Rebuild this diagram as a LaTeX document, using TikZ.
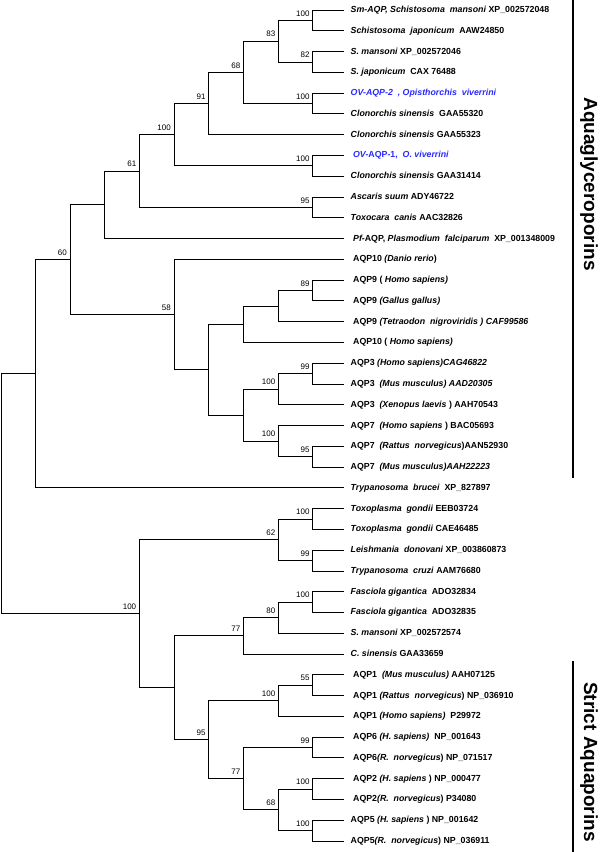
\documentclass[tikz,border=0pt]{standalone}
\usepackage{fontspec}
\setmainfont{Liberation Sans}
\definecolor{ovblue}{RGB}{40,40,255}
\tikzset{
  br/.style={line width=0.85pt, black},
  bs/.style={font=\fontsize{8}{9}\selectfont, anchor=south east, inner sep=0pt, xshift=-3pt, yshift=4pt},
  leaf/.style={font=\fontsize{8.8}{10}\selectfont\bfseries, anchor=west, inner sep=0pt, xshift=6.5pt, text height=6pt, text depth=1pt},
  ov/.style={leaf, text=ovblue},
  grp/.style={font=\fontsize{19}{22}\selectfont\bfseries, rotate=-90, inner sep=0pt},
  grpbar/.style={line width=1.3pt, black},
}
\begin{document}
\begin{tikzpicture}[x=1pt,y=-1pt]
\useasboundingbox (0,0) rectangle (600,852);
% leaves
\foreach \i in {1,...,41} \coordinate (l\i) at (344,{10+20.775*(\i-1)});
% internal nodes
\coordinate (root) at (1,493.75);
\coordinate (U) at (35.3,373.72);
\coordinate (A) at (70,259.62);
\coordinate (B) at (104.8,204.77);
\coordinate (C) at (139.4,171.01);
\coordinate (n100a) at (174,134.65);
\coordinate (n91) at (208.7,103.49);
\coordinate (n68) at (243.5,72.33);
\coordinate (n83) at (278.5,41.16);
\coordinate (n100b) at (312.7,20.39);
\coordinate (n82) at (312.7,61.94);
\coordinate (n100c) at (312.7,103.49);
\coordinate (n100d) at (312.7,165.81);
\coordinate (n95a) at (312.7,207.36);
\coordinate (n58) at (174,314.48);
\coordinate (D) at (208.7,369.67);
\coordinate (E) at (243.5,324.22);
\coordinate (F) at (278.5,306.04);
\coordinate (n89) at (312.7,290.46);
\coordinate (G) at (243.5,415.11);
\coordinate (n100e) at (278.5,389.14);
\coordinate (n99) at (312.7,373.56);
\coordinate (n100f) at (278.5,441.08);
\coordinate (n95b) at (312.7,456.66);
\coordinate (L) at (139.4,613.77);
\coordinate (n62) at (278.5,539.76);
\coordinate (n100g) at (312.7,518.99);
\coordinate (n99b) at (312.7,560.54);
\coordinate (H) at (174,687.78);
\coordinate (n77a) at (243.5,635.85);
\coordinate (n80) at (278.5,617.67);
\coordinate (n100h) at (312.7,602.09);
\coordinate (n95c) at (208.7,739.72);
\coordinate (n100i) at (278.5,700.77);
\coordinate (n55) at (312.7,685.19);
\coordinate (n77b) at (243.5,778.68);
\coordinate (n99c) at (312.7,747.51);
\coordinate (n68b) at (278.5,809.84);
\coordinate (n100j) at (312.7,789.06);
\coordinate (n100k) at (312.7,830.61);
% branches
\foreach \p/\c in {root/U, root/L, U/A, U/l24, A/B, A/n58, B/C, B/l12, C/n100a, C/n95a,
  n100a/n91, n100a/n100d, n91/n68, n91/l7, n68/n83, n68/n100c, n83/n100b, n83/n82,
  n100b/l1, n100b/l2, n82/l3, n82/l4, n100c/l5, n100c/l6, n100d/l8, n100d/l9, n95a/l10, n95a/l11,
  n58/l13, n58/D, D/E, D/G, E/F, E/l17, F/n89, F/l16, n89/l14, n89/l15,
  G/n100e, G/n100f, n100e/n99, n100e/l20, n99/l18, n99/l19, n100f/l21, n100f/n95b, n95b/l22, n95b/l23,
  L/n62, L/H, n62/n100g, n62/n99b, n100g/l25, n100g/l26, n99b/l27, n99b/l28,
  H/n77a, H/n95c, n77a/n80, n77a/l32, n80/n100h, n80/l31, n100h/l29, n100h/l30,
  n95c/n100i, n95c/n77b, n100i/n55, n100i/l35, n55/l33, n55/l34,
  n77b/n99c, n77b/n68b, n99c/l36, n99c/l37, n68b/n100j, n68b/n100k,
  n100j/l38, n100j/l39, n100k/l40, n100k/l41}
  \draw[br] (\p) |- (\c);
% bootstrap values
\foreach \n/\v [count=\k] in {A/60, C/61, n100a/100, n91/91, n68/68, n83/83, n100b/100, n82/82,
  n100c/100, n100d/100, n95a/95, n58/58, n89/89, n99/99, n100e/100, n100f/100, n95b/95,
  L/100, n62/62, n100g/100, n99b/99, n80/80, n100h/100, n77a/77, n55/55, n100i/100,
  n95c/95, n99c/99, n77b/77, n68b/68, n100j/100, n100k/100}
  \node[bs] (bs\k) at (\n) {\v};
% leaf labels
\node[leaf] (t1) at (l1) {\textit{Sm-AQP, Schistosoma\ \ mansoni} XP\_002572048};
\node[leaf] (t2) at (l2) {\textit{Schistosoma\ \ japonicum}\ \ AAW24850};
\node[leaf] (t3) at (l3) {\textit{S. mansoni} XP\_002572046};
\node[leaf] (t4) at (l4) {\textit{S. japonicum}\ \ CAX 76488};
\node[ov] (t5) at (l5) {\textit{OV-AQP-2\ \ , Opisthorchis\ \ viverrini}};
\node[leaf] (t6) at (l6) {\textit{Clonorchis sinensis}\ \ GAA55320};
\node[leaf] (t7) at (l7) {\textit{Clonorchis sinensis} GAA55323};
\node[ov] (t8) at (l8) {\ \textit{OV-}AQP-1,\ \ \textit{O. viverrini}};
\node[leaf] (t9) at (l9) {\textit{Clonorchis sinensis} GAA31414};
\node[leaf] (t10) at (l10) {\textit{Ascaris suum} ADY46722};
\node[leaf] (t11) at (l11) {\textit{Toxocara\ \ canis} AAC32826};
\node[leaf] (t12) at (l12) {\ \textit{Pf-}AQP, \textit{Plasmodium\ \ falciparum}\ \ XP\_001348009};
\node[leaf] (t13) at (l13) {\ AQP10 \textit{(Danio rerio})};
\node[leaf] (t14) at (l14) {\ AQP9 ( \textit{Homo sapiens)}};
\node[leaf] (t15) at (l15) {\ AQP9 \textit{(Gallus gallus)}};
\node[leaf] (t16) at (l16) {\ AQP9 \textit{(Tetraodon\ \ nigroviridis ) CAF99586}};
\node[leaf] (t17) at (l17) {\ AQP10 ( \textit{Homo sapiens)}};
\node[leaf] (t18) at (l18) {AQP3 \textit{(Homo sapiens)CAG46822}};
\node[leaf] (t19) at (l19) {AQP3\ \ \textit{(Mus musculus) AAD20305}};
\node[leaf] (t20) at (l20) {AQP3\ \ \textit{(Xenopus laevis} ) AAH70543};
\node[leaf] (t21) at (l21) {AQP7\ \ \textit{(Homo sapiens} ) BAC05693};
\node[leaf] (t22) at (l22) {AQP7\ \ \textit{(Rattus\ \ norvegicus})AAN52930};
\node[leaf] (t23) at (l23) {AQP7\ \ \textit{(Mus musculus)AAH22223}};
\node[leaf] (t24) at (l24) {\textit{Trypanosoma\ \ brucei}\ \ XP\_827897};
\node[leaf] (t25) at (l25) {\textit{Toxoplasma\ \ gondii} EEB03724};
\node[leaf] (t26) at (l26) {\textit{Toxoplasma\ \ gondii} CAE46485};
\node[leaf] (t27) at (l27) {\textit{Leishmania\ \ donovani} XP\_003860873};
\node[leaf] (t28) at (l28) {\textit{Trypanosoma\ \ cruzi} AAM76680};
\node[leaf] (t29) at (l29) {\textit{Fasciola gigantica}\ \ ADO32834};
\node[leaf] (t30) at (l30) {\textit{Fasciola gigantica}\ \ ADO32835};
\node[leaf] (t31) at (l31) {\textit{S. mansoni} XP\_002572574};
\node[leaf] (t32) at (l32) {\textit{C. sinensis} GAA33659};
\node[leaf] (t33) at (l33) {\ AQP1\ \ \textit{(Mus musculus)} AAH07125};
\node[leaf] (t34) at (l34) {\ AQP1 \textit{(Rattus\ \ norvegicus}) NP\_036910};
\node[leaf] (t35) at (l35) {\ AQP1 \textit{(Homo sapiens)}\ \ P29972};
\node[leaf] (t36) at (l36) {\ AQP6 \textit{(H. sapiens)}\ \ NP\_001643};
\node[leaf] (t37) at (l37) {\ AQP6\textit{(R.\ \ norvegicus}) NP\_071517};
\node[leaf] (t38) at (l38) {\ AQP2 \textit{(H. sapiens} ) NP\_000477};
\node[leaf] (t39) at (l39) {\ AQP2\textit{(R.\ \ norvegicus}) P34080};
\node[leaf] (t40) at (l40) {AQP5 \textit{(H. sapiens} ) NP\_001642};
\node[leaf] (t41) at (l41) {AQP5\textit{(R.\ \ norvegicus}) NP\_036911};
% groups
\coordinate (bar1a) at (573,0);
\coordinate (bar1b) at (573,478);
\coordinate (bar2a) at (573,661);
\coordinate (bar2b) at (573,852);
\draw[grpbar] (bar1a) -- (bar1b);
\draw[grpbar] (bar2a) -- (bar2b);
\node[grp] (g1) at (589,184) {Aquaglyceroporins};
\node[grp] (g2) at (589,762) {Strict Aquaporins};
\end{tikzpicture}
\end{document}
